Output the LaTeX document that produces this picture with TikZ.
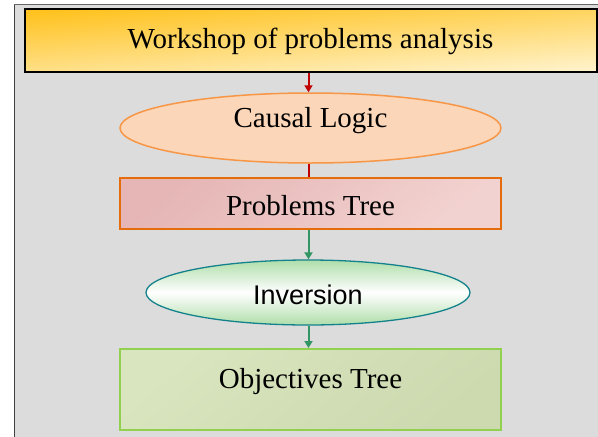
\documentclass[tikz,border=0pt]{standalone}
\usepackage{fontspec}
\setmainfont{Liberation Serif}
\newfontfamily\arialf{Liberation Sans}
\usetikzlibrary{shapes.geometric,arrows.meta}
\definecolor{panel}{RGB}{220,220,220}
\definecolor{wsA}{RGB}{255,194,30}
\definecolor{wsB}{RGB}{255,242,200}
\definecolor{clFill}{RGB}{251,214,184}
\definecolor{clLine}{RGB}{247,150,70}
\definecolor{ptA}{RGB}{229,182,181}
\definecolor{ptB}{RGB}{242,210,208}
\definecolor{ptLine}{RGB}{228,108,10}
\definecolor{invLine}{RGB}{20,130,140}
\definecolor{invGreen}{RGB}{175,222,170}
\definecolor{otA}{RGB}{216,229,190}
\definecolor{otB}{RGB}{205,217,175}
\definecolor{otLine}{RGB}{146,208,80}
\definecolor{redArr}{RGB}{192,0,0}
\definecolor{greenArr}{RGB}{50,150,100}
\tikzset{
  boxbase/.style={inner sep=0pt, font=\fontsize{29}{32}\selectfont},
  redline/.style={draw=redArr, line width=2pt},
  greenline/.style={draw=greenArr, line width=2pt},
  tip/.style={-{Triangle[length=7pt,width=8pt]}}
}
\begin{document}
\begin{tikzpicture}[x=1pt,y=-1pt]
\useasboundingbox (0,0) rectangle (598,437);
\fill[white] (0,0) rectangle (598,437);
\fill[panel] (14.5,4.5) rectangle (598,437);
\draw[gray!80!black, line width=1.5pt] (14.5,437) -- (14.5,4.5) -- (598,4.5);
\draw[black!75, line width=1.2pt] (14.5,437) -- (14.5,4.5);

\node[boxbase, draw=black, line width=2pt, rectangle, top color=wsA, bottom color=wsB, shading angle=4,
      minimum width=572pt, minimum height=63pt, text height=20pt, text depth=4pt]
      (ws) at (310.5,40) {Workshop of problems analysis};

\node[boxbase, ellipse, draw=clLine, line width=1.5pt, fill=clFill,
      minimum width=381pt, minimum height=70pt, text height=20pt, text depth=22pt]
      (cl) at (310.5,128) {Causal Logic};

\node[boxbase, rectangle, draw=ptLine, line width=1.5pt, top color=ptA, bottom color=ptB, shading angle=40,
      minimum width=381pt, minimum height=51pt, text height=24pt, text depth=1pt]
      (pt) at (310.5,203.5) {Problems Tree};

\node[boxbase, ellipse, draw=invLine, line width=1.3pt, top color=invGreen, bottom color=invGreen, middle color=white,
      minimum width=324pt, minimum height=65pt, text height=24pt, text depth=1pt,
      font=\arialf\fontsize{27}{30}\selectfont]
      (inv) at (308,292.5) {Inversion};

\node[boxbase, rectangle, draw=otLine, line width=2pt, top color=otA, bottom color=otB, shading angle=40,
      minimum width=381pt, minimum height=81pt, text height=20pt, text depth=23pt]
      (ot) at (310.5,389.5) {Objectives Tree};

\draw[redline, tip] (ws.south -| 308.5,0) -- (cl.north -| 308.5,0);
\draw[redline] (cl.south -| 308.5,0) -- (pt.north -| 308.5,0);
\draw[greenline, tip] (pt.south -| 308.5,0) -- (inv.north -| 308.5,0);
\draw[greenline, tip] (inv.south -| 308.5,0) -- (ot.north -| 308.5,0);
\end{tikzpicture}
\end{document}
